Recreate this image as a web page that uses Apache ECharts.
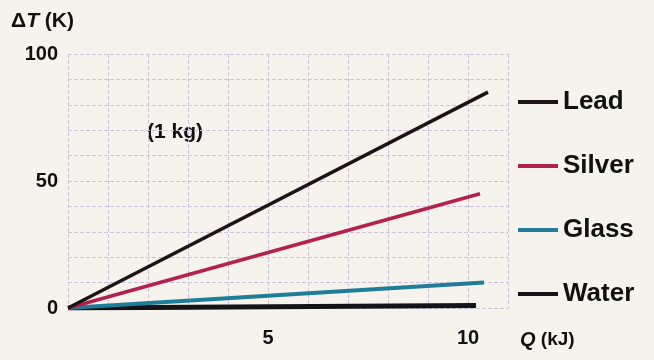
<!DOCTYPE html>
<html>
<head>
<meta charset="utf-8">
<script src="https://cdn.jsdelivr.net/npm/echarts@6/dist/echarts.min.js"></script>
<style>
  html, body { margin: 0; padding: 0; background: #f5f3ec; }
  #chart { width: 654px; height: 360px; }
</style>
</head>
<body>
<div id="chart"></div>
<script>
// 材料名称与颜色
const materials = ['Lead', 'Silver', 'Glass', 'Water'];
const lineColors = ['#1e1418', '#b3214f', '#1f7d9a', '#141318'];
const lineWidths = [3.5, 3.5, 4, 5];

// 每条线的起点与终点 (Q kJ, ΔT K)
const qStart = [0, 0, 0, 0];
const qEnd = [10.5, 10.3, 10.4, 10.2];
const dtStart = [0, 0, 0, 0];
const dtEnd = [85, 45, 10, 1];

// 显示的刻度标签
const xTickLabels = [5, 10];
const yTickLabels = [0, 50, 100];

const chartDom = document.getElementById('chart');
const myChart = echarts.init(chartDom);

const seriesList = materials.map(function (name, i) {
  return {
    name: name,
    type: 'line',
    showSymbol: false,
    data: [[qStart[i], dtStart[i]], [qEnd[i], dtEnd[i]]],
    lineStyle: { color: lineColors[i], width: lineWidths[i] },
    itemStyle: { color: lineColors[i] },
    z: 10 - i
  };
});

const fontFamily = 'Liberation Sans, Arial, sans-serif';
const labelFont = {
  color: '#111',
  fontSize: 20,
  fontWeight: 'bold',
  fontFamily: fontFamily
};

const option = {
  backgroundColor: '#f5f3ec',
  animation: false,
  legend: {
    data: materials,
    orient: 'vertical',
    left: 513,
    top: 84,
    itemWidth: 40,
    itemHeight: 4,
    itemGap: 38,
    icon: 'rect',
    textStyle: {
      color: '#111',
      fontSize: 26,
      fontWeight: 'bold',
      fontFamily: fontFamily
    }
  },
  grid: {
    left: 68,
    right: 146,
    top: 54,
    bottom: 52
  },
  xAxis: {
    type: 'value',
    min: 0,
    max: 11,
    interval: 1,
    name: '{i|Q} (kJ)',
    nameLocation: 'end',
    nameGap: 12,
    nameTextStyle: {
      color: '#111',
      fontSize: 19,
      fontWeight: 'bold',
      fontFamily: fontFamily,
      verticalAlign: 'top',
      padding: [22, 0, 0, 0],
      rich: {
        i: { color: '#111', fontStyle: 'italic', fontSize: 20, fontWeight: 'bold', fontFamily: fontFamily }
      }
    },
    axisLine: { show: false },
    axisTick: { show: false },
    axisLabel: Object.assign({}, labelFont, {
      margin: 20,
      formatter: function (v) {
        return xTickLabels.indexOf(v) >= 0 ? String(v) : '';
      }
    }),
    splitLine: {
      show: true,
      lineStyle: { color: '#cdc2dc', type: 'dashed', width: 1 }
    }
  },
  yAxis: {
    type: 'value',
    min: 0,
    max: 100,
    interval: 10,
    name: '{d|Δ}{t|T}{d| (K)}',
    nameLocation: 'end',
    nameGap: 22,
    nameTextStyle: {
      align: 'right',
      padding: [0, -6, 0, 0],
      rich: {
        d: { color: '#111', fontSize: 21, fontWeight: 'bold', fontFamily: fontFamily },
        t: { color: '#111', fontSize: 21, fontWeight: 'bold', fontStyle: 'italic', fontFamily: fontFamily }
      }
    },
    axisLine: { show: false },
    axisTick: { show: false },
    axisLabel: Object.assign({}, labelFont, {
      margin: 10,
      formatter: function (v) {
        return yTickLabels.indexOf(v) >= 0 ? String(v) : '';
      }
    }),
    splitLine: {
      show: true,
      lineStyle: { color: '#cdc2dc', type: 'dashed', width: 1 }
    }
  },
  graphic: [
    {
      type: 'text',
      left: 147,
      top: 122,
      style: {
        text: '(1 kg)',
        fill: '#111',
        fontSize: 21,
        fontWeight: 'bold',
        fontFamily: fontFamily
      }
    }
  ],
  series: seriesList
};

option && myChart.setOption(option);
</script>
</body>
</html>
